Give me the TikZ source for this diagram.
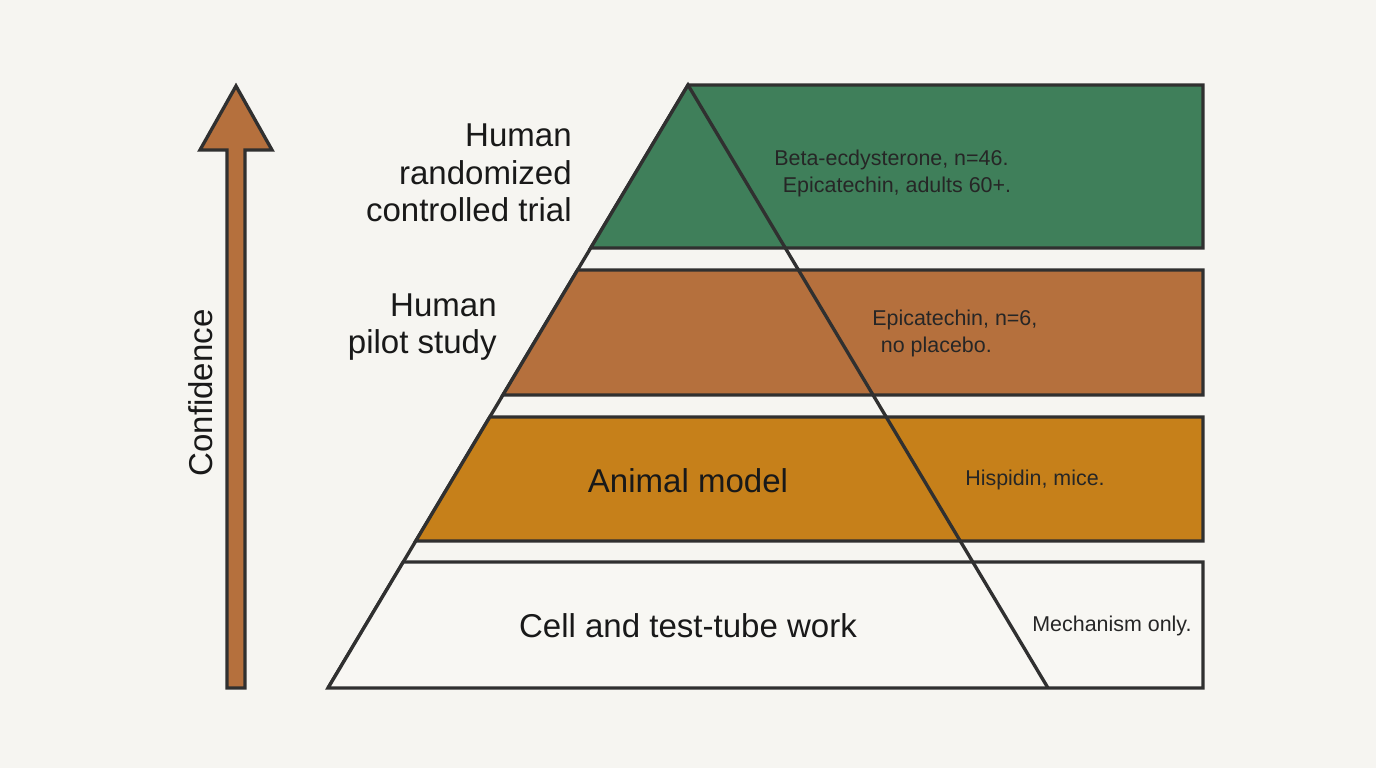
\documentclass[tikz,border=0pt]{standalone}
\usepackage{fontspec}
\setmainfont{Liberation Sans}
\usetikzlibrary{calc,positioning}
\definecolor{bgcol}{HTML}{F6F5F1}
\definecolor{rctgreen}{HTML}{3F7F5A}
\definecolor{pilotbrown}{HTML}{B5703D}
\definecolor{animalochre}{HTML}{C6801A}
\definecolor{cellwhite}{HTML}{F8F7F3}
\definecolor{edgegray}{HTML}{303030}

\begin{document}
\begin{tikzpicture}[x=0.02cm, y=-0.02cm, edge/.style={draw=edgegray, line width=1.9pt}, level/.style={font=\fontsize{18.8}{21.3}\selectfont, text=black!90, align=right, inner sep=0pt}, note/.style={font=\fontsize{12.2}{15.4}\selectfont, text=black!85, align=left, anchor=west, inner sep=0pt}]
\fill[bgcol] (0,0) rectangle (1376,768);
\coordinate (apex) at (688,85);
\coordinate (baseL) at (328,688);
\coordinate (baseR) at (1048,688);
\draw[edge] (baseL) -- (apex) -- (baseR);
\foreach \ytop/\ybot/\col in {85/248/rctgreen, 270/395/pilotbrown, 417/541/animalochre, 562/688/cellwhite}{
  \pgfmathsetmacro{\dtop}{0.597*(\ytop-85)}
  \pgfmathsetmacro{\dbot}{0.597*(\ybot-85)}
  \filldraw[edge, fill=\col] (688-\dtop,\ytop) -- (1203,\ytop) -- (1203,\ybot) -- (688-\dbot,\ybot) -- cycle;
  \draw[edge] (688+\dtop,\ytop) -- (688+\dbot,\ybot);
}
\filldraw[edge, fill=pilotbrown] (227,688) -- (227,150) -- (200,150) -- (236,86) -- (272,150) -- (245,150) -- (245,688) -- cycle;
\node[level, rotate=90] (conf) at (201,393) {Confidence};
\node[level, anchor=east] (rct) at (572,173) {Human\\randomized\\controlled trial};
\node[level, anchor=east] (pilot) at (497,327) {Human\\pilot study};
\node[level] (animal) at (688,481) {Animal model};
\node[level] (cell) at (688,626) {Cell and test-tube work};
\node[note] (rctnote) at (774,173) {Beta-ecdysterone, n=46.\\\hspace*{0.4em}Epicatechin, adults 60+.};
\node[note] (pilotnote) at (872,333) {Epicatechin, n=6,\\\hspace*{0.4em}no placebo.};
\node[note] (animalnote) at (965,480) {Hispidin, mice.};
\node[note] (cellnote) at (1032,626) {Mechanism only.};
\end{tikzpicture}
\end{document}
